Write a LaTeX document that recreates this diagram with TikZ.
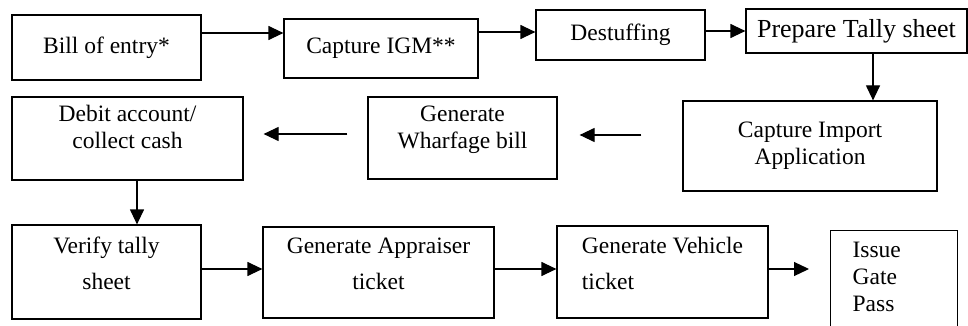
\documentclass[tikz,border=0pt]{standalone}
\usepackage{fontspec}
\setmainfont{Liberation Serif}
\usetikzlibrary{arrows.meta}

\begin{document}
\begin{tikzpicture}[x=1pt, y=-1pt,
    stage/.style={draw, line width=1.2pt, inner sep=2pt, align=center,
      font=\fontsize{23.5}{27}\selectfont},
    wide/.style={font=\fontsize{23.5}{36}\selectfont, text depth=18pt},
    flow/.style={line width=1.2pt, -{Triangle[length=15pt, width=14pt]}}]
      \useasboundingbox (0,0) rectangle (968,326);
      \node[stage, minimum width=189, minimum height=65] (bill) at (106.5,47.5)
        {Bill of entry*};
      \node[stage, minimum width=194, minimum height=59] (igm) at (381,48.5)
        {Capture IGM**};
      \node[stage, minimum width=169, minimum height=50] (dest) at (620.5,35)
        {Destuffing};
      \node[stage, minimum width=221, minimum height=44,
        font=\fontsize{26}{27}\selectfont] (tally) at (856.5,31)
        {Prepare Tally sheet};
      \node[stage, minimum width=254, minimum height=90] (cia) at (810,146)
        {Capture Import\\Application};
      \node[stage, text depth=21pt, minimum width=189, minimum height=82] (wharf)
        at (462.5,138) {Generate\\Wharfage bill};
      \node[stage, text depth=24pt, minimum width=231, minimum height=83] (debit)
        at (127.5,138.5) {Debit account/\\collect cash};
      \node[stage, wide, minimum width=189, minimum height=94] (verify) at (106.5,272)
        {Verify tally\\sheet};
      \node[stage, wide, minimum width=231, minimum height=91] (appr) at (378.5,272.5)
        {Generate Appraiser\\ticket};
      \node[stage, wide, align=left, minimum width=211, minimum height=92] (veh)
        at (662.5,272) {Generate Vehicle\\ticket};
      \node[stage, anchor=north west, align=left, text width=83, inner xsep=22,
        inner ysep=11.5] (issue) at (830,230)
        {Issue\\Gate\\Pass\rule[-40pt]{0pt}{0pt}};
      \draw[flow] (bill.east |- 0,33) -- (igm.west |- 0,33);
      \draw[flow] (igm.east |- 0,32) -- (dest.west |- 0,32);
      \draw[flow] (dest.east |- 0,31) -- (tally.west |- 0,31);
      \draw[flow] (tally.south -| 873,0) -- (cia.north -| 873,0);
      \draw[flow, shorten <=41pt, shorten >=22pt] (cia.west |- 0,135) -- (wharf.east |- 0,135);
      \draw[flow, shorten <=20pt, shorten >=20pt] (wharf.west |- 0,134) -- (debit.east |- 0,134);
      \draw[flow] (debit.south -| 137,0) -- (verify.north -| 137,0);
      \draw[flow] (verify.east |- 0,269) -- (appr.west |- 0,269);
      \draw[flow] (appr.east |- 0,269) -- (veh.west |- 0,269);
      \draw[flow, shorten >=21pt] (veh.east |- 0,269) -- (issue.west |- 0,269);
    \end{tikzpicture}
\end{document}
